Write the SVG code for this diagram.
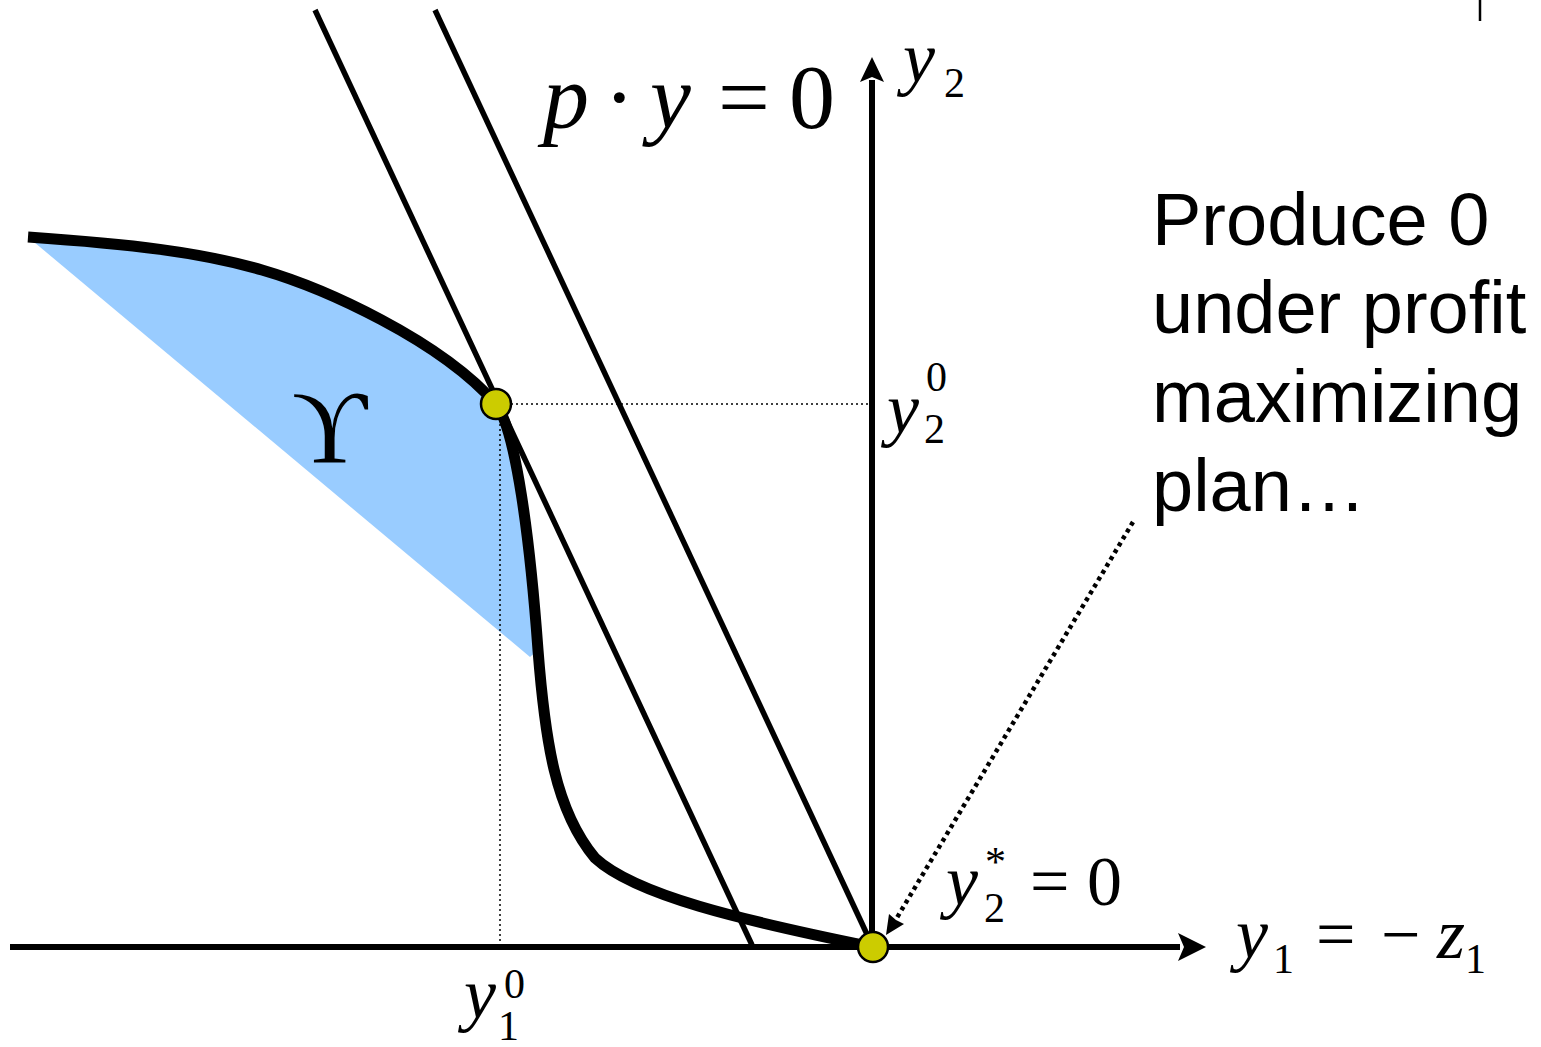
<svg xmlns="http://www.w3.org/2000/svg" width="1541" height="1047" viewBox="0 0 1541 1047">
<style>
.m{font-family:"Liberation Serif","Times New Roman",serif;fill:#000}
.i{font-style:italic}
.s{font-family:"Liberation Sans",Arial,sans-serif;font-size:74px;fill:#000}
.thin{stroke:#000;stroke-width:5.5;fill:none}
.dot{fill:#CCCC00;stroke:#000;stroke-width:2.5}
.guide{stroke:#000;stroke-width:1.5;stroke-dasharray:2,3;fill:none}
</style>
<g id="region">
<path d="M28,237 C130,244 200,252 262,270 S440,340 496,404 C516,430 530,540 538,650 L530,657 Z" fill="#99CCFF"/>
</g>
<g id="connectors">
<line class="guide" x1="496" y1="404" x2="870" y2="404"/>
<line class="guide" x1="500" y1="404" x2="500" y2="945"/>
<line class="thin" x1="315" y1="10" x2="752" y2="945"/>
<line class="thin" x1="435" y1="10" x2="872" y2="945"/>
<line x1="10" y1="947" x2="1180" y2="947" stroke="#000" stroke-width="6"/>
<path d="M1206,947 L1178,933 L1184,947 L1178,961 Z" fill="#000"/>
<line x1="872" y1="947" x2="872" y2="80" stroke="#000" stroke-width="6"/>
<path d="M872,57 L860,82 L872,77 L884,82 Z" fill="#000"/>
<path d="M28,237 C130,244 200,252 262,270 S440,340 496,404 C516,430 530,540 538,650 C545,740 555,810 595,858 C635,895 740,920 873,947" fill="none" stroke="#000" stroke-width="11"/>
<line x1="1133" y1="522" x2="892" y2="926" stroke="#000" stroke-width="4.5" stroke-dasharray="4,4"/>
<path d="M886,935 L889,914 L896,920 L904,924 Z" fill="#000"/>
<line x1="1480" y1="0" x2="1480" y2="21" stroke="#000" stroke-width="2.5"/>
</g>
<g id="origin"><circle class="dot" cx="873" cy="947" r="15"/></g>
<g id="tangent-point"><circle class="dot" cx="496" cy="404" r="15"/></g>
<g id="label-upsilon"><text class="m" x="292" y="462" font-size="104">ϒ</text></g>
<g id="label-isoprofit"><text class="m i" x="543" y="128" font-size="92">p</text><text class="m" x="604" y="128" font-size="92">·</text><text class="m i" x="650" y="128" font-size="92">y</text><text class="m" x="718" y="128" font-size="92">=</text><text class="m" x="789" y="128" font-size="92">0</text></g>
<g id="label-y2axis"><text class="m i" x="903" y="82" font-size="72">y</text><text class="m" x="944" y="97" font-size="42">2</text></g>
<g id="label-y20"><text class="m i" x="887" y="433" font-size="72">y</text><text class="m" x="926" y="391" font-size="42">0</text><text class="m" x="924" y="443" font-size="42">2</text></g>
<g id="label-y10"><text class="m i" x="464" y="1018" font-size="72">y</text><text class="m" x="504" y="998" font-size="42">0</text><text class="m" x="498" y="1040" font-size="42">1</text></g>
<g id="label-y2star"><text class="m i" x="946" y="905" font-size="72">y</text><text class="m" x="985" y="876" font-size="42">*</text><text class="m" x="984" y="922" font-size="42">2</text><text class="m" x="1030" y="905" font-size="70">=</text><text class="m" x="1087" y="905" font-size="70">0</text></g>
<g id="label-y1axis"><text class="m i" x="1236" y="958" font-size="72">y</text><text class="m" x="1273" y="973" font-size="42">1</text><text class="m" x="1316" y="958" font-size="70">=</text><text class="m" x="1381" y="958" font-size="70">−</text><text class="m i" x="1437" y="958" font-size="72">z</text><text class="m" x="1465" y="973" font-size="42">1</text></g>
<g id="note"><text class="s" x="1152" y="245">Produce 0</text><text class="s" x="1152" y="333">under profit</text><text class="s" x="1152" y="422">maximizing</text><text class="s" x="1152" y="511">plan…</text></g>
</svg>
